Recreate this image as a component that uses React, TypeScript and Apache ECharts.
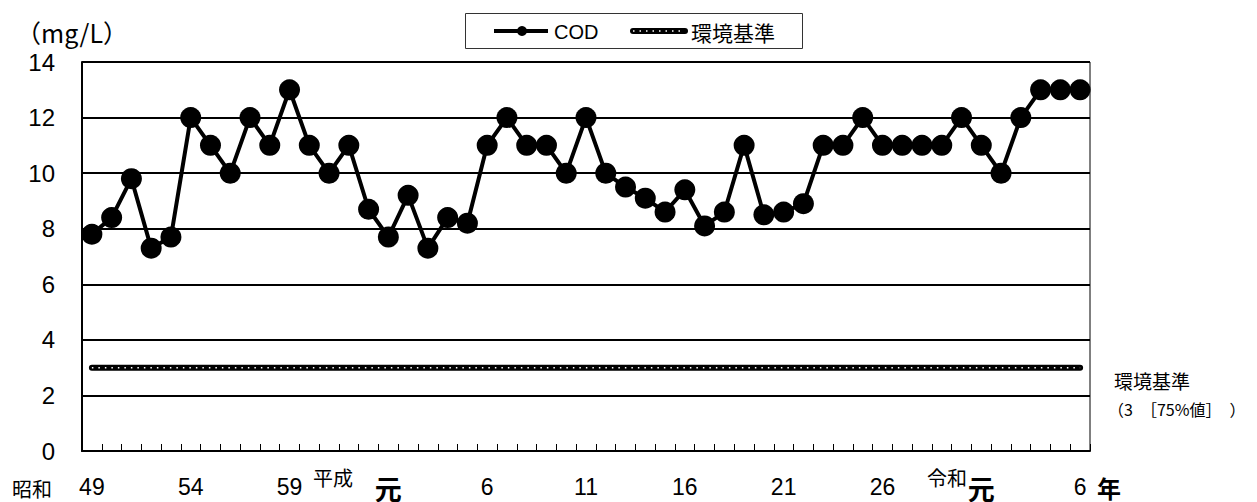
import React, { useEffect, useRef } from "react";
import * as echarts from "echarts";

const categories = [
  "昭和49", "昭和50", "昭和51", "昭和52", "昭和53", "昭和54", "昭和55", "昭和56", "昭和57", "昭和58",
  "昭和59", "昭和60", "昭和61", "昭和62", "昭和63", "平成元", "平成2", "平成3", "平成4", "平成5",
  "平成6", "平成7", "平成8", "平成9", "平成10", "平成11", "平成12", "平成13", "平成14", "平成15",
  "平成16", "平成17", "平成18", "平成19", "平成20", "平成21", "平成22", "平成23", "平成24", "平成25",
  "平成26", "平成27", "平成28", "平成29", "平成30", "令和元", "令和2", "令和3", "令和4", "令和5",
  "令和6",
];

const codValues = [
  7.8, 8.4, 9.8, 7.3, 7.7, 12, 11, 10, 12, 11,
  13, 11, 10, 11, 8.7, 7.7, 9.2, 7.3, 8.4, 8.2,
  11, 12, 11, 11, 10, 12, 10, 9.5, 9.1, 8.6,
  9.4, 8.1, 8.6, 11, 8.5, 8.6, 8.9, 11, 11, 12,
  11, 11, 11, 11, 12, 11, 10, 12, 13, 13,
  13,
];

const standardValues = [
  3, 3, 3, 3, 3, 3, 3, 3, 3, 3,
  3, 3, 3, 3, 3, 3, 3, 3, 3, 3,
  3, 3, 3, 3, 3, 3, 3, 3, 3, 3,
  3, 3, 3, 3, 3, 3, 3, 3, 3, 3,
  3, 3, 3, 3, 3, 3, 3, 3, 3, 3,
  3,
];

const labelIndexes = [0, 5, 10, 15, 20, 25, 30, 35, 40, 45, 50];
const labelTexts = ["49", "54", "59", "元", "6", "11", "16", "21", "26", "元", "6"];

const yTicks = { min: 0, max: 14, interval: 2 };

const SANS = "'Liberation Sans', Arial, sans-serif";
const CJK = "'Noto Sans CJK JP', sans-serif";

export default function App() {
  const ref = useRef<HTMLDivElement>(null);
  useEffect(() => {
    if (!ref.current) return;
    const chart = echarts.init(ref.current, null, { renderer: "svg" });
    const legendY = 31;
    chart.setOption({
      animation: false,
      backgroundColor: "#fff",
      grid: {
        left: 82,
        right: 167,
        top: 62,
        bottom: 51,
        containLabel: false,
        outerBoundsMode: "none",
        show: true,
        borderColor: "#000",
        borderWidth: 1,
        backgroundColor: "transparent",
      },
      xAxis: {
        type: "category",
        data: categories,
        boundaryGap: true,
        axisLine: { lineStyle: { color: "#000", width: 2 } },
        axisTick: {
          show: true,
          inside: true,
          length: 7,
          interval: 0,
          lineStyle: { color: "#000", width: 1 },
        },
        axisLabel: {
          interval: (index: number) => labelIndexes.includes(index),
          formatter: (_v: string, index: number) => {
            const k = labelIndexes.indexOf(index);
            if (k < 0) return "";
            const t = labelTexts[k];
            return t === "元" ? `{g|${t}}` : `{n|${t}}`;
          },
          margin: 24,
          color: "#000",
          rich: {
            n: { fontSize: 23, fontFamily: SANS, color: "#000" },
            g: { fontSize: 27, lineHeight: 27, fontFamily: CJK, fontWeight: "bold", color: "#000" },
          },
        },
      },
      yAxis: {
        type: "value",
        min: yTicks.min,
        max: yTicks.max,
        interval: yTicks.interval,
        axisLine: { show: true, lineStyle: { color: "#000", width: 2 } },
        axisTick: { show: false },
        axisLabel: { fontSize: 24, fontFamily: SANS, color: "#000", margin: 27 },
        splitLine: { show: true, lineStyle: { color: "#000", width: 2 } },
      },
      series: [
        {
          name: "環境基準",
          type: "line",
          data: standardValues,
          symbol: "none",
          lineStyle: { color: "#000", width: 6, cap: "round" },
          z: 3,
        },
        {
          name: "環境基準dots",
          type: "line",
          data: standardValues,
          symbol: "none",
          lineStyle: { color: "#fff", width: 1.5, type: [1.5, 5], cap: "butt" },
          z: 4,
        },
        {
          name: "COD",
          type: "line",
          data: codValues,
          symbol: "circle",
          symbolSize: 21,
          showAllSymbol: true,
          lineStyle: { color: "#000", width: 4 },
          itemStyle: { color: "#000" },
          z: 5,
        },
      ],
      graphic: [
        {
          type: "text",
          x: 16,
          y: 32,
          style: { text: "（mg/L）", font: `25px ${CJK}`, fill: "#000", verticalAlign: "middle" },
        },
        {
          type: "rect",
          shape: { x: 465.5, y: 13.5, width: 337, height: 35 },
          style: { fill: "#fff", stroke: "#333", lineWidth: 1 },
          z: 10,
        },
        {
          type: "line",
          shape: { x1: 494, y1: legendY, x2: 548, y2: legendY },
          style: { stroke: "#000", lineWidth: 4 },
          z: 11,
        },
        {
          type: "circle",
          shape: { cx: 522, cy: legendY, r: 5 },
          style: { fill: "#000" },
          z: 11,
        },
        {
          type: "text",
          x: 554,
          y: legendY + 1,
          style: { text: "COD", font: `20px ${SANS}`, fill: "#000", verticalAlign: "middle" },
          z: 11,
        },
        {
          type: "line",
          shape: { x1: 633, y1: legendY, x2: 685, y2: legendY },
          style: { stroke: "#000", lineWidth: 6, lineCap: "round" },
          z: 11,
        },
        {
          type: "line",
          shape: { x1: 633, y1: legendY, x2: 685, y2: legendY },
          style: { stroke: "#fff", lineWidth: 1.5, lineDash: [1.5, 5] },
          z: 12,
        },
        {
          type: "text",
          x: 691,
          y: legendY + 1,
          style: { text: "環境基準", font: `21px ${CJK}`, fill: "#000", verticalAlign: "middle" },
          z: 11,
        },
        {
          type: "text",
          x: 1114,
          y: 380,
          style: { text: "環境基準", font: `19px ${CJK}`, fill: "#000", verticalAlign: "middle" },
        },
        {
          type: "text",
          x: 1108,
          y: 409,
          style: { text: "（3　［75%値］　）", font: `16px ${CJK}`, fill: "#000", verticalAlign: "middle" },
        },
        {
          type: "text",
          x: 12,
          y: 488,
          style: { text: "昭和", font: `20px ${CJK}`, fill: "#000", verticalAlign: "middle" },
        },
        {
          type: "text",
          x: 313,
          y: 477,
          style: { text: "平成", font: `20px ${CJK}`, fill: "#000", verticalAlign: "middle" },
        },
        {
          type: "text",
          x: 927,
          y: 477,
          style: { text: "令和", font: `20px ${CJK}`, fill: "#000", verticalAlign: "middle" },
        },
        {
          type: "text",
          x: 1097,
          y: 487,
          style: { text: "年", font: `bold 24px ${CJK}`, fill: "#000", verticalAlign: "middle" },
        },
      ],
    });
    return () => chart.dispose();
  }, []);
  return (
    <div
      ref={ref}
      style={{ position: "absolute", left: 0, top: 0, width: 1257, height: 502 }}
    />
  );
}
